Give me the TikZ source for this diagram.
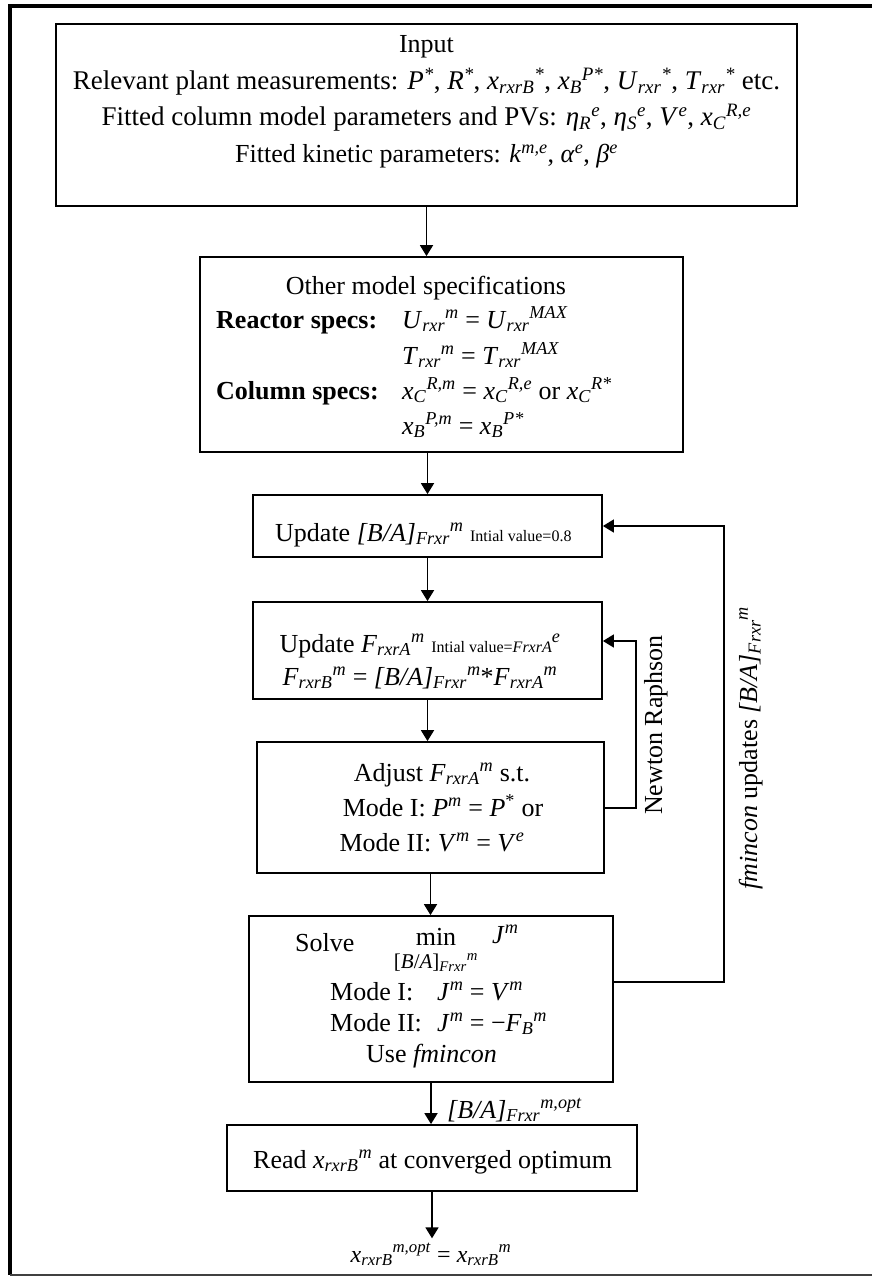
\documentclass[tikz,border=0pt]{standalone}
\usepackage{fontspec}
\setmainfont{Liberation Serif}
\usetikzlibrary{arrows.meta,calc}
\newcommand{\vv}[3]{\textit{#1}\textsubscript{\textit{#2}}\textsuperscript{\textit{#3}}}
\newcommand{\vp}[2]{\textit{#1}\textsuperscript{\textit{#2}}}
\newcommand{\BA}{\textit{[B/A]}\textsubscript{\textit{Frxr}}}
\begin{document}
\begin{tikzpicture}[x=1pt,y=-1pt,
  box/.style={draw, line width=1.8pt, inner sep=0pt},
  txt/.style={inner sep=0pt, font=\fontsize{26}{31}\selectfont},
  bigtxt/.style={inner sep=0pt, font=\fontsize{27}{32}\selectfont},
  arr/.style={line width=1.8pt, -{Triangle[length=11pt,width=13pt]}},
  loop/.style={line width=1.6pt, -{Triangle[length=11pt,width=13pt]}}]
\useasboundingbox (0,0) rectangle (872,1276);
% outer frame
\draw[line width=3.5pt] (10,1275) -- (10,6) -- (872,6);
\draw[line width=1.5pt, black!75] (10,1275) -- (872,1275);

% boxes
\node[box, minimum width=741pt, minimum height=182pt] (in) at (426.5,115) {};
\node[box, minimum width=483pt, minimum height=195pt] (spec) at (441.5,354.5) {};
\node[box, minimum width=349pt, minimum height=62pt] (updba) at (427.5,526) {};
\node[box, minimum width=349pt, minimum height=97pt] (updf) at (427.5,650.5) {};
\node[box, minimum width=347pt, minimum height=131pt] (adj) at (430.5,807.5) {};
\node[box, minimum width=364pt, minimum height=166pt] (solve) at (431,999) {};
\node[box, minimum width=410pt, minimum height=66pt] (read) at (432,1158) {};

% input text
\node[txt, anchor=base] (i1) at (426.5,53) {Input};
\node[bigtxt, anchor=base] (i2) at (426.5,90) {Relevant plant measurements: \vp{P}{*}, \vp{R}{*}, \vv{x}{rxrB}{*}, \vv{x}{B}{P*}, \vv{U}{rxr}{*}, \vv{T}{rxr}{*} etc.};
\node[bigtxt, anchor=base] (i3) at (426.5,126) {Fitted column model parameters and PVs: \vv{η}{R}{e}, \vv{η}{S}{e}, \vp{V}{e}, \vv{x}{C}{R,e}};
\node[txt, anchor=base] (i4) at (426.5,163) {Fitted kinetic parameters: \vp{k}{m,e}, \vp{α}{e}, \vp{β}{e}};

% spec text
\node[txt, anchor=base] (s0) at (426,294) {Other model specifications};
\node[txt, anchor=base west] (s1) at (216,328) {\textbf{Reactor specs:}};
\node[txt, anchor=base west] (s2) at (402,328) {\vv{U}{rxr}{m} = \vv{U}{rxr}{MAX}};
\node[txt, anchor=base west] (s3) at (402,364) {\vv{T}{rxr}{m} = \vv{T}{rxr}{MAX}};
\node[txt, anchor=base west] (s4) at (216,399) {\textbf{Column specs:}};
\node[txt, anchor=base west] (s5) at (402,399) {\vv{x}{C}{R,m} = \vv{x}{C}{R,e} or \vv{x}{C}{R*}};
\node[txt, anchor=base west] (s6) at (402,434) {\vv{x}{B}{P,m} = \vv{x}{B}{P*}};

% update B/A
\node[txt, anchor=base west] (u1) at (275,541) {Update \BA\textsuperscript{\textit{m}} {\fontsize{16}{16}\selectfont Intial value=0.8}};

% update F
\node[txt, anchor=base] (f1) at (420,652) {Update \vv{F}{rxrA}{m} {\fontsize{16}{16}\selectfont Intial value=\textit{FrxrA}}\textsuperscript{\textit{e}}};
\node[txt, anchor=base] (f2) at (420,685) {\vv{F}{rxrB}{m} = \BA\textsuperscript{\textit{m}}*\vv{F}{rxrA}{m}};

% adjust
\node[txt, anchor=base] (a1) at (442,781) {Adjust \vv{F}{rxrA}{m} s.t.};
\node[txt, anchor=base] (a2) at (443,816) {Mode I: \vp{P}{m} = \textit{P}\textsuperscript{*} or};
\node[txt, anchor=base] (a3) at (432,851) {Mode II: \vp{V}{m} = \vp{V}{e}};

% solve
\node[txt, anchor=base west] (o1) at (295,951) {Solve};
\node[txt, anchor=base] (o2) at (436,945) {min};
\node[txt, anchor=base, font=\fontsize{21}{21}\selectfont] (o3) at (436,968) {[\textit{B}/\textit{A}]\textsubscript{\textit{Frxr}}\textsuperscript{\textit{m}}};
\node[txt, anchor=base west] (o4) at (492,943) {\vp{J}{m}};
\node[txt, anchor=base west] (o5) at (330,1000) {Mode I:};
\node[txt, anchor=base west] (o6) at (437,1000) {\vp{J}{m} = \vp{V}{m}};
\node[txt, anchor=base west] (o7) at (330,1031) {Mode II:};
\node[txt, anchor=base west] (o8) at (437,1031) {\vp{J}{m} = −\vv{F}{B}{m}};
\node[txt, anchor=base west] (o9) at (366,1062) {Use \textit{fmincon}};

% read
\node[txt, anchor=base west] (r1) at (253,1168) {Read \vv{x}{rxrB}{m} at converged optimum};

% labels
\node[txt, anchor=base west] (l1) at (447,1118) {\BA\textsuperscript{\textit{m,opt}}};
\node[txt, anchor=base, font=\fontsize{24}{28}\selectfont] (out) at (431,1262) {\vv{x}{rxrB}{m,opt} = \vv{x}{rxrB}{m}};
\node[txt, anchor=base, rotate=90] (nr) at (662,725) {Newton Raphson};
\node[txt, anchor=base, rotate=90] (fm) at (757,748) {\textit{fmincon} updates \BA\textsuperscript{\textit{m}}};

% connectors
\draw[arr] (in.south) -- (in.south |- spec.north);
\draw[arr] (updba.north |- spec.south) -- (updba.north);
\draw[arr] (updba.south) -- (updba.south |- updf.north);
\draw[arr] (updf.south) -- (updf.south |- adj.north);
\draw[arr] (adj.south) -- (adj.south |- solve.north);
\draw[arr] (solve.south) -- (solve.south |- read.north);
\draw[arr, shorten >=5pt] (read.south) -- (read.south |- out.north);

\coordinate (nr1) at (636,808);
\coordinate (nr2) at (636,641);
\draw[loop] (adj.east |- nr1) -- (nr1) -- (nr2) -- (updf.east |- nr2);
\coordinate (fm1) at (724,982);
\coordinate (fm2) at (724,526);
\draw[loop] (solve.east |- fm1) -- (fm1) -- (fm2) -- (updba.east |- fm2);
\end{tikzpicture}
\end{document}
